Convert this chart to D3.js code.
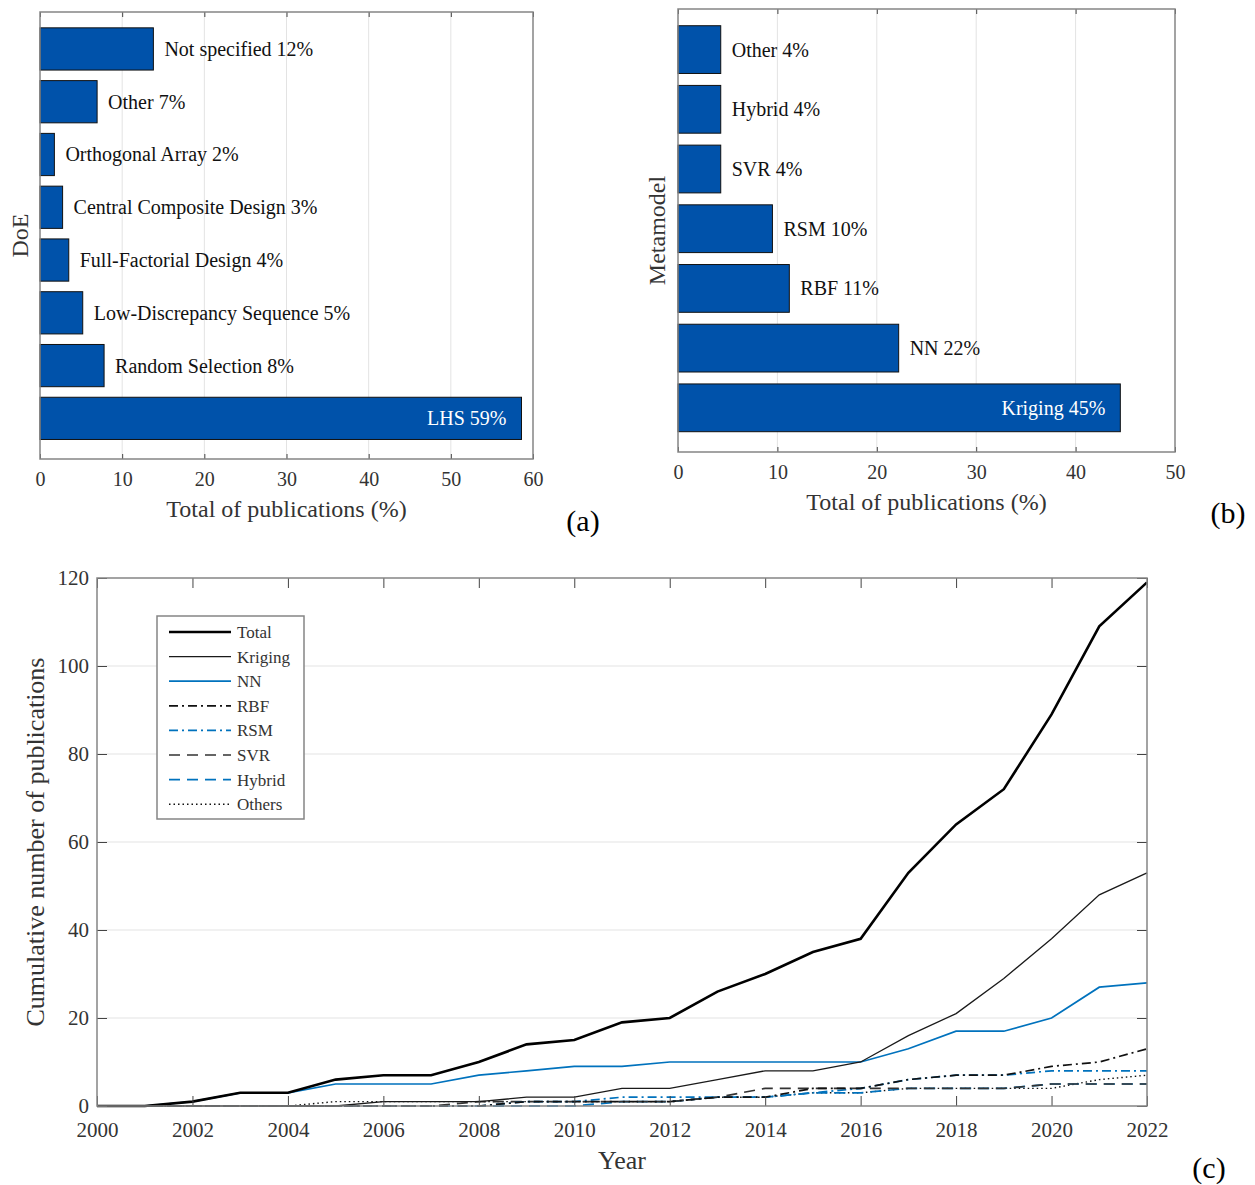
<!DOCTYPE html>
<html>
<head>
<meta charset="utf-8">
<script src="https://cdn.jsdelivr.net/npm/d3@7"></script>
<style>
  body { margin: 0; background: #fff; }
  svg { font-family: "Liberation Serif", "Times New Roman", serif; }
</style>
</head>
<body>
<div id="chart"></div>
<script>
// panel (a) - design of experiments, listed bottom to top
const doeNames = ['LHS', 'Random Selection', 'Low-Discrepancy Sequence', 'Full-Factorial Design',
  'Central Composite Design', 'Orthogonal Array', 'Other', 'Not specified'];
const doeShown = [59, 8, 5, 4, 3, 2, 7, 12];
const doeBars = [58.6, 7.8, 5.2, 3.5, 2.75, 1.75, 6.95, 13.8];
const doeTicks = [0, 10, 20, 30, 40, 50, 60];

// panel (b) - metamodels, bottom to top
const metaNames = ['Kriging', 'NN', 'RBF', 'RSM', 'SVR', 'Hybrid', 'Other'];
const metaShown = [45, 22, 11, 10, 4, 4, 4];
const metaBars = [44.5, 22.2, 11.2, 9.5, 4.3, 4.3, 4.3];
const metaTicks = [0, 10, 20, 30, 40, 50];

// panel (c) - cumulative publications
const years = d3.range(2000, 2023);
const total   = [0,0,1,3,3,6,7,7,10,14,15,19,20,26,30,35,38,53,64,72,89,109,119];
const kriging = [0,0,0,0,0,0,1,1,1,2,2,4,4,6,8,8,10,16,21,29,38,48,53];
const nn      = [0,0,1,3,3,5,5,5,7,8,9,9,10,10,10,10,10,13,17,17,20,27,28];
const rbf     = [0,0,0,0,0,0,0,0,0,1,1,1,1,2,2,4,4,6,7,7,9,10,13];
const rsm     = [0,0,0,0,0,0,0,0,0,1,1,2,2,2,2,3,4,6,7,7,8,8,8];
const svr     = [0,0,0,0,0,0,0,0,1,1,1,1,1,2,4,4,4,4,4,4,5,5,5];
const hybrid  = [0,0,0,0,0,0,0,0,0,0,0,1,1,2,2,3,3,4,4,4,5,5,5];
const others  = [0,0,0,0,0,1,1,1,1,1,1,1,1,2,2,3,3,4,4,4,4,6,7];
const yearTicks = d3.range(2000, 2023, 2);
const countTicks = [0, 20, 40, 60, 80, 100, 120];

const width = 1255, height = 1185;
const barFill = '#0052aa';
const boxGray = '#858585';
const gridGray = '#e3e3e3';
const textGray = '#333';

const svg = d3.select('#chart').append('svg').attr('width', width).attr('height', height);

function barPanel(names, shown, bars, ticks, xr, yr, domain, yTitle, yTitleX, letter, letterPos) {
  const x = d3.scaleLinear().domain(d3.extent(ticks)).range(xr);
  const y = d3.scaleLinear().domain(domain).range(yr);
  const g = svg.append('g');

  // grid
  g.append('g').selectAll('line').data(ticks.slice(1, -1)).join('line')
    .attr('x1', d => x(d)).attr('x2', d => x(d))
    .attr('y1', yr[0]).attr('y2', yr[1])
    .attr('stroke', gridGray).attr('stroke-width', 1);

  const bandH = (y(0) - y(1)) * 0.8;
  g.append('g').selectAll('rect').data(bars).join('rect')
    .attr('x', x(0)).attr('y', (d, i) => y(i) - bandH / 2)
    .attr('width', d => x(d) - x(0)).attr('height', bandH)
    .attr('fill', barFill).attr('stroke', '#111').attr('stroke-width', 1);

  g.append('g').selectAll('text').data(bars).join('text')
    .attr('x', (d, i) => i === 0 ? x(d) - 15 : x(d) + 11)
    .attr('y', (d, i) => y(i))
    .attr('dy', '0.35em')
    .attr('text-anchor', (d, i) => i === 0 ? 'end' : 'start')
    .attr('font-size', 20)
    .attr('fill', (d, i) => i === 0 ? '#fff' : '#111')
    .text((d, i) => names[i] + ' ' + shown[i] + '%');

  // axes
  const bottom = g.append('g').attr('transform', `translate(0,${yr[0]})`)
    .call(d3.axisBottom(x).tickValues(ticks).tickSizeInner(-5).tickSizeOuter(0).tickPadding(13));
  bottom.attr('font-size', 20).attr('font-family', null);
  bottom.selectAll('text').attr('fill', textGray);
  bottom.selectAll('line').attr('stroke', '#444');
  bottom.select('.domain').remove();
  g.append('g').attr('transform', `translate(0,${yr[1]})`)
    .call(d3.axisTop(x).tickValues(ticks).tickSizeInner(-5).tickSizeOuter(0).tickFormat(''))
    .call(a => a.select('.domain').remove())
    .selectAll('line').attr('stroke', '#444');

  g.append('rect').attr('x', xr[0]).attr('y', yr[1])
    .attr('width', xr[1] - xr[0]).attr('height', yr[0] - yr[1])
    .attr('fill', 'none').attr('stroke', boxGray).attr('stroke-width', 1.5);

  g.append('text').attr('x', (xr[0] + xr[1]) / 2).attr('y', yr[0] + 58)
    .attr('text-anchor', 'middle').attr('font-size', 24).attr('fill', textGray)
    .text('Total of publications (%)');
  g.append('text').attr('transform', `translate(${yTitleX},${(yr[0] + yr[1]) / 2}) rotate(-90)`)
    .attr('text-anchor', 'middle').attr('dy', '0.35em').attr('font-size', 24).attr('fill', textGray)
    .text(yTitle);
  g.append('text').attr('x', letterPos[0]).attr('y', letterPos[1])
    .attr('text-anchor', 'middle').attr('font-size', 30).attr('fill', '#000')
    .text(letter);
}

barPanel(doeNames, doeShown, doeBars, doeTicks, [40, 533], [459, 12], [-0.77, 7.70], 'DoE', 20, '(a)', [583, 531]);
barPanel(metaNames, metaShown, metaBars, metaTicks, [678, 1175], [452, 9], [-0.74, 6.68], 'Metamodel', 657, '(b)', [1228, 523]);

// panel (c)
const xC = d3.scaleLinear().domain([2000, 2022]).range([97, 1147]);
const yC = d3.scaleLinear().domain([0, 120]).range([1106, 578]);
const gc = svg.append('g');

gc.append('g').selectAll('line').data(countTicks.slice(1, -1)).join('line')
  .attr('x1', xC(2000)).attr('x2', xC(2022))
  .attr('y1', d => yC(d)).attr('y2', d => yC(d))
  .attr('stroke', gridGray).attr('stroke-width', 1);

const seriesList = [
  { name: 'Total', values: total, color: '#000', w: 2.6, dash: null },
  { name: 'Kriging', values: kriging, color: '#1a1a1a', w: 1.3, dash: null },
  { name: 'NN', values: nn, color: '#0072bd', w: 1.7, dash: null },
  { name: 'RBF', values: rbf, color: '#111', w: 1.7, dash: '9,4,2,4' },
  { name: 'RSM', values: rsm, color: '#0072bd', w: 1.7, dash: '9,4,2,4' },
  { name: 'SVR', values: svr, color: '#333', w: 1.7, dash: '11,7' },
  { name: 'Hybrid', values: hybrid, color: '#0072bd', w: 1.7, dash: '11,7' },
  { name: 'Others', values: others, color: '#111', w: 1.4, dash: '1.5,3' }
];

const line = d3.line().x((d, i) => xC(years[i])).y(d => yC(d));
gc.append('g').selectAll('path').data(seriesList.slice().reverse()).join('path')
  .attr('d', s => line(s.values))
  .attr('fill', 'none').attr('stroke', s => s.color).attr('stroke-width', s => s.w)
  .attr('stroke-dasharray', s => s.dash);

const bx = gc.append('g').attr('transform', `translate(0,${yC(0)})`)
  .call(d3.axisBottom(xC).tickValues(yearTicks).tickFormat(d3.format('d')).tickSizeInner(-10).tickSizeOuter(0).tickPadding(16));
bx.attr('font-size', 21).attr('font-family', null);
bx.selectAll('text').attr('fill', textGray);
bx.selectAll('line').attr('stroke', '#444');
bx.select('.domain').remove();

const by = gc.append('g').attr('transform', `translate(${xC(2000)},0)`)
  .call(d3.axisLeft(yC).tickValues(countTicks).tickSizeInner(-10).tickSizeOuter(0).tickPadding(8));
by.attr('font-size', 21).attr('font-family', null);
by.selectAll('text').attr('fill', textGray);
by.selectAll('line').attr('stroke', '#444');
by.select('.domain').remove();

gc.append('g').attr('transform', `translate(0,${yC(120)})`)
  .call(d3.axisTop(xC).tickValues(yearTicks).tickSizeInner(-10).tickSizeOuter(0).tickFormat(''))
  .call(a => a.select('.domain').remove())
  .selectAll('line').attr('stroke', '#444');
gc.append('g').attr('transform', `translate(${xC(2022)},0)`)
  .call(d3.axisRight(yC).tickValues(countTicks).tickSizeInner(-10).tickSizeOuter(0).tickFormat(''))
  .call(a => a.select('.domain').remove())
  .selectAll('line').attr('stroke', '#444');

gc.append('rect').attr('x', xC(2000)).attr('y', yC(120))
  .attr('width', xC(2022) - xC(2000)).attr('height', yC(0) - yC(120))
  .attr('fill', 'none').attr('stroke', boxGray).attr('stroke-width', 1.5);

gc.append('text').attr('x', (xC(2000) + xC(2022)) / 2).attr('y', 1169)
  .attr('text-anchor', 'middle').attr('font-size', 26).attr('fill', textGray).text('Year');
gc.append('text').attr('transform', `translate(35,${(yC(0) + yC(120)) / 2}) rotate(-90)`)
  .attr('text-anchor', 'middle').attr('dy', '0.35em').attr('font-size', 26).attr('fill', textGray)
  .text('Cumulative number of publications');
gc.append('text').attr('x', 1209).attr('y', 1178)
  .attr('text-anchor', 'middle').attr('font-size', 30).attr('fill', '#000').text('(c)');

// legend
const lg = gc.append('g');
lg.append('rect').attr('x', 157).attr('y', 616).attr('width', 147).attr('height', 203)
  .attr('fill', '#fff').attr('stroke', boxGray).attr('stroke-width', 1.5);
const rows = lg.selectAll('g.row').data(seriesList).join('g').attr('class', 'row')
  .attr('transform', (d, i) => `translate(0,${632 + i * 24.6})`);
rows.append('line').attr('x1', 169).attr('x2', 231)
  .attr('stroke', s => s.color).attr('stroke-width', s => s.w)
  .attr('stroke-dasharray', s => s.dash);
rows.append('text').attr('x', 237).attr('dy', '0.35em').attr('font-size', 17)
  .attr('fill', textGray).text(s => s.name);
</script>
</body>
</html>
